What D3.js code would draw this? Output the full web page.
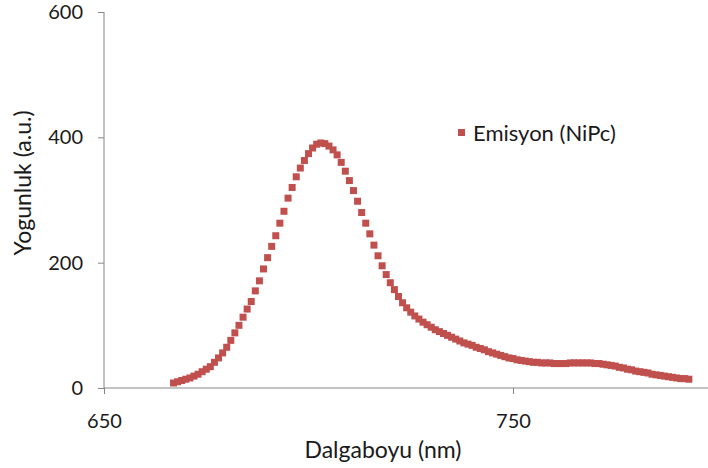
<!DOCTYPE html>
<html>
<head>
<meta charset="utf-8">
<script src="https://cdn.jsdelivr.net/npm/d3@7"></script>
<style>
  html, body { margin: 0; padding: 0; background: #fff; }
  svg { display: block; }
  text { font-family: Lato, "Liberation Sans", sans-serif; fill: #1a1a1a; }
</style>
</head>
<body>
<svg id="chart" width="708" height="468"></svg>
<script>
// Wavelength (nm), 1 nm steps
const wavelengths = d3.range(667, 794);
// Emission intensity (a.u.)
const emission = [
  8, 10, 12, 14, 16, 19, 22, 26, 30, 34,          // 667-676
  41, 48, 56, 65, 76, 88, 100, 113, 126, 138,     // 677-686
  155, 171, 190, 208, 226, 243, 263, 282, 303, 320, // 687-696
  337, 351, 363, 374, 383, 389, 391, 390, 386, 380, // 697-706
  372, 360, 346, 331, 315, 298, 280, 263, 246, 228, // 707-716
  211, 195, 181, 168, 157, 146, 136, 128, 121, 115, // 717-726
  110, 105, 101, 97, 93, 90, 87, 84, 81, 78,      // 727-736
  75, 72, 70, 68, 65, 63, 61, 58, 56, 54,         // 737-746
  52, 50, 48, 47, 45, 44, 43, 42, 41, 41,         // 747-756
  40, 40, 40, 39, 39, 39, 39, 40, 40, 40,         // 757-766
  40, 40, 40, 39, 39, 38, 37, 36, 35, 33,         // 767-776
  32, 30, 29, 27, 26, 25, 24, 22, 21, 20,         // 777-786
  19, 18, 17, 16, 15, 15, 14                      // 787-793
];
const xTicks = [650, 750];
const yTicks = [0, 200, 400, 600];
const seriesName = "Emisyon (NiPc)";
const xTitle = "Dalgaboyu (nm)";
const yTitle = "Yogunluk (a.u.)";

const data = wavelengths.map((w, i) => ({ w, v: emission[i] }));

const svg = d3.select("#chart");
const x = d3.scaleLinear().domain([650, 800]).range([104, 717.5]);
const y = d3.scaleLinear().domain([0, 600]).range([388, 12]);
const axisColor = "#868686";
const red = "#C0504D";

// Y axis
const gy = svg.append("g").attr("transform", "translate(104,0)")
  .call(d3.axisLeft(y).tickValues(yTicks).tickSize(6).tickPadding(15).tickFormat(d3.format("d")));
gy.select(".domain").attr("stroke", axisColor).attr("d", `M0,${y(0)}V${y(600)}`);
gy.selectAll(".tick line").attr("stroke", axisColor);
gy.selectAll(".tick text").style("font-size", "20px").attr("fill", "#1a1a1a");

// X axis
const gx = svg.append("g").attr("transform", `translate(0,${y(0)})`)
  .call(d3.axisBottom(x).tickValues(xTicks).tickSize(6).tickPadding(20).tickFormat(d3.format("d")));
gx.select(".domain").attr("stroke", axisColor).attr("d", `M${x(650)},0H${x(800)}`);
gx.selectAll(".tick line").attr("stroke", axisColor);
gx.selectAll(".tick text").style("font-size", "20px").attr("fill", "#1a1a1a");

// Markers
const ms = 7;
svg.append("g").selectAll("rect").data(data).join("rect")
  .attr("x", d => x(d.w) - ms / 2)
  .attr("y", d => y(d.v) - ms / 2)
  .attr("width", ms).attr("height", ms)
  .attr("fill", red);

// Axis titles
svg.append("text").attr("x", 383).attr("y", 458).attr("text-anchor", "middle")
  .style("font-size", "23px").text(xTitle);
svg.append("text").attr("transform", "translate(31,183) rotate(-90)").attr("text-anchor", "middle")
  .style("font-size", "23px").text(yTitle);

// Legend
svg.append("rect").attr("x", 458).attr("y", 129).attr("width", ms).attr("height", ms).attr("fill", red);
svg.append("text").attr("x", 473).attr("y", 141).style("font-size", "22px").text(seriesName);
</script>
</body>
</html>
